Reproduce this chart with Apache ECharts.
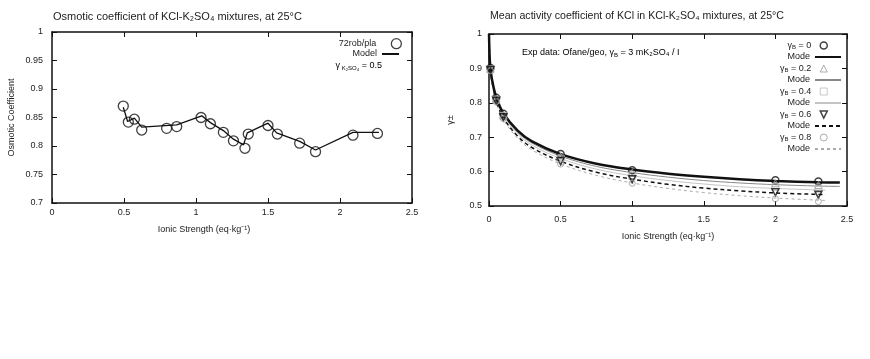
<!DOCTYPE html>
<html><head><meta charset="utf-8">
<script src="https://cdn.jsdelivr.net/npm/echarts@6/dist/echarts.min.js"></script>
<style>html,body{margin:0;padding:0;background:#fff}#c{width:870px;height:359px}</style>
</head><body><div id="c"></div>
<script>
// ---- Left chart: osmotic coefficient ----
const osmX = [0.495, 0.53, 0.572, 0.623, 0.796, 0.866, 1.035, 1.10, 1.19, 1.26, 1.34, 1.363, 1.50, 1.565, 1.72, 1.83, 2.09, 2.26];
const osmY = [0.870, 0.842, 0.847, 0.828, 0.831, 0.834, 0.850, 0.839, 0.824, 0.809, 0.796, 0.821, 0.836, 0.821, 0.805, 0.790, 0.819, 0.822];
const osmModelX = [0.495, 0.525, 0.572, 0.623, 0.866, 1.04, 1.10, 1.19, 1.26, 1.33, 1.356, 1.50, 1.56, 1.72, 1.83, 2.09, 2.27];
const osmModelY = [0.868, 0.843, 0.849, 0.833, 0.837, 0.853, 0.841, 0.827, 0.812, 0.802, 0.823, 0.840, 0.823, 0.808, 0.793, 0.824, 0.824];

// ---- Right chart: mean activity coefficient ----
const expX = [0.01, 0.05, 0.1, 0.5, 1, 2, 2.3];
const expY0 = [0.901, 0.815, 0.768, 0.651, 0.604, 0.575, 0.571];
const expY2 = [0.899, 0.812, 0.765, 0.644, 0.597, 0.566, 0.561];
const expY4 = [0.897, 0.809, 0.762, 0.638, 0.588, 0.555, 0.550];
const expY6 = [0.895, 0.806, 0.758, 0.630, 0.578, 0.540, 0.533];
const expY8 = [0.893, 0.803, 0.754, 0.622, 0.566, 0.521, 0.513];

const modelXLong = [0, 0.005, 0.01, 0.02, 0.05, 0.1, 0.2, 0.3, 0.5, 0.75, 1, 1.25, 1.5, 1.75, 2, 2.3, 2.45];
const modelXShort = [0, 0.005, 0.01, 0.02, 0.05, 0.1, 0.2, 0.3, 0.5, 0.75, 1, 1.25, 1.5, 1.75, 2, 2.35];
const modelY0 = [1.0, 0.927, 0.902, 0.870, 0.817, 0.770, 0.719, 0.688, 0.651, 0.623, 0.606, 0.594, 0.585, 0.578, 0.573, 0.569, 0.568];
const modelY2 = [1.0, 0.926, 0.900, 0.868, 0.814, 0.766, 0.714, 0.683, 0.645, 0.615, 0.597, 0.584, 0.574, 0.567, 0.562, 0.558, 0.557];
const modelY4 = [1.0, 0.925, 0.899, 0.866, 0.811, 0.762, 0.709, 0.677, 0.638, 0.607, 0.588, 0.574, 0.564, 0.556, 0.551, 0.546];
const modelY6 = [1.0, 0.924, 0.898, 0.864, 0.807, 0.757, 0.703, 0.670, 0.630, 0.598, 0.578, 0.563, 0.552, 0.544, 0.538, 0.533];
const modelY8 = [1.0, 0.923, 0.896, 0.861, 0.803, 0.752, 0.697, 0.663, 0.622, 0.589, 0.567, 0.551, 0.539, 0.530, 0.523, 0.516];

const yBLabels = ['0', '0.2', '0.4', '0.6', '0.8'];

const FONT = 'Liberation Sans, Arial, sans-serif';
const TXT = '#222';
const zip = (xs, ys) => ys.map((y, i) => [xs[i], y]);

function ax(extra) {
  return Object.assign({
    type: 'value',
    axisLine: { show: true, onZero: false, lineStyle: { color: '#111', width: 1.5 } },
    axisTick: { show: true, inside: true, length: 5, lineStyle: { color: '#111', width: 1 } },
    splitLine: { show: false },
    axisLabel: { color: TXT, fontSize: 9, fontFamily: FONT }
  }, extra);
}
const noLabel = { show: false };

const richSub = {
  g: { fontSize: 9, fontFamily: FONT, color: TXT, lineHeight: 10 },
  b: { fontSize: 6, fontFamily: FONT, color: TXT, lineHeight: 10, verticalAlign: 'bottom', padding: [3, 0, 0, 0] }
};

const markerStyles = [
  { symbol: 'circle', icon: 'circle', rotate: 0, size: 7, color: '#111', bw: 1.5 },
  { symbol: 'triangle', icon: 'triangle', rotate: 0, size: 7, color: '#999', bw: 1 },
  { symbol: 'rect', icon: 'rect', rotate: 0, size: 7, color: '#bbb', bw: 1 },
  { symbol: 'triangle', icon: 'path://M0,0L10,0L5,10Z', rotate: 180, size: 7, color: '#111', bw: 1.5 },
  { symbol: 'circle', icon: 'circle', rotate: 0, size: 6, color: '#999', bw: 1 }
];
const lineStyles = [
  { color: '#111', width: 2.5, type: 'solid' },
  { color: '#888', width: 1, type: 'solid' },
  { color: '#c4c4c4', width: 1, type: 'solid' },
  { color: '#111', width: 1.5, type: [4, 3] },
  { color: '#aaa', width: 1, type: [3, 3] }
];
const expYs = [expY0, expY2, expY4, expY6, expY8];
const modelData = [
  zip(modelXLong, modelY0), zip(modelXLong, modelY2), zip(modelXShort, modelY4),
  zip(modelXShort, modelY6), zip(modelXShort, modelY8)
];
const hiddenSym = { color: 'rgba(0,0,0,0)', borderColor: 'rgba(0,0,0,0)', borderWidth: 0 };

const series = [
  {
    name: 'Model', type: 'line', xAxisIndex: 0, yAxisIndex: 0,
    data: zip(osmModelX, osmModelY), symbol: 'none',
    itemStyle: { color: '#111' },
    lineStyle: { color: '#111', width: 1.3 }, z: 2
  },
  {
    name: '72rob/pla', type: 'scatter', xAxisIndex: 0, yAxisIndex: 0,
    data: zip(osmX, osmY), symbol: 'circle', symbolSize: 10,
    itemStyle: { color: 'rgba(0,0,0,0)', borderColor: '#111', borderWidth: 1.3 }, z: 3
  }
];
for (let i = 0; i < 5; i++) {
  series.push({
    name: 'M' + i, type: 'line', xAxisIndex: 2, yAxisIndex: 2,
    data: modelData[i], symbol: 'none', smooth: 0.35,
    itemStyle: { color: lineStyles[i].color },
    lineStyle: lineStyles[i], z: 2 + (4 - i) * 0.1
  });
}
for (let i = 0; i < 5; i++) {
  const m = markerStyles[i];
  series.push({
    name: 'E' + i, type: 'scatter', xAxisIndex: 2, yAxisIndex: 2,
    data: zip(expX, expYs[i]), symbol: m.symbol, symbolRotate: m.rotate, symbolSize: m.size,
    itemStyle: { color: 'rgba(0,0,0,0)', borderColor: m.color, borderWidth: m.bw }, z: 4
  });
}

const option = {
  backgroundColor: '#fff',
  animation: false,
  title: [
    { text: 'Osmotic coefficient of KCl-K₂SO₄ mixtures, at 25°C', left: 53, top: 11, padding: 0,
      textStyle: { fontSize: 11, fontWeight: 'normal', color: TXT, fontFamily: FONT } },
    { text: 'Mean activity coefficient of KCl in KCl-K₂SO₄ mixtures, at 25°C', left: 490, top: 11, padding: 0,
      textStyle: { fontSize: 10.6, fontWeight: 'normal', color: TXT, fontFamily: FONT } }
  ],
  grid: [
    { left: 52, right: 458, top: 32, bottom: 156 },
    { left: 489, right: 23, top: 34, bottom: 153 }
  ],
  xAxis: [
    ax({ gridIndex: 0, min: 0, max: 2.5, interval: 0.5, position: 'bottom',
      name: 'Ionic Strength (eq·kg⁻¹)', nameLocation: 'middle', nameGap: 22,
      nameTextStyle: { color: TXT, fontSize: 9, fontFamily: FONT, padding: [0, 56, 0, 0] },
      axisLabel: { color: TXT, fontSize: 9, fontFamily: FONT, margin: 5 } }),
    ax({ gridIndex: 0, min: 0, max: 2.5, interval: 0.5, position: 'top', axisLabel: noLabel }),
    ax({ gridIndex: 1, min: 0, max: 2.5, interval: 0.5, position: 'bottom',
      name: 'Ionic Strength (eq·kg⁻¹)', nameLocation: 'middle', nameGap: 26,
      nameTextStyle: { color: TXT, fontSize: 9, fontFamily: FONT },
      axisLabel: { color: TXT, fontSize: 9, fontFamily: FONT, margin: 9 } }),
    ax({ gridIndex: 1, min: 0, max: 2.5, interval: 0.5, position: 'top', axisLabel: noLabel })
  ],
  yAxis: [
    ax({ gridIndex: 0, min: 0.7, max: 1, interval: 0.05, position: 'left',
      name: 'Osmotic Coefficient', nameLocation: 'middle', nameGap: 36,
      nameTextStyle: { color: TXT, fontSize: 9, fontFamily: FONT },
      axisLabel: { color: TXT, fontSize: 9, fontFamily: FONT, margin: 9 } }),
    ax({ gridIndex: 0, min: 0.7, max: 1, interval: 0.05, position: 'right', axisLabel: noLabel }),
    ax({ gridIndex: 1, min: 0.5, max: 1, interval: 0.1, position: 'left',
      name: 'γ±', nameLocation: 'middle', nameGap: 34,
      nameTextStyle: { color: TXT, fontSize: 9, fontFamily: FONT },
      axisLabel: { color: TXT, fontSize: 9, fontFamily: FONT, margin: 7 } }),
    ax({ gridIndex: 1, min: 0.5, max: 1, interval: 0.1, position: 'right', axisLabel: noLabel })
  ],
  legend: [
    { data: [{ name: '72rob/pla', icon: 'circle', itemStyle: { color: '#fff', borderColor: '#111', borderWidth: 1.3 } }],
      orient: 'vertical', align: 'right', right: 468, top: 38, padding: 0,
      itemWidth: 10, itemHeight: 10, selectedMode: false,
      textStyle: { fontSize: 9, color: TXT, fontFamily: FONT, lineHeight: 10, padding: [0, 10, 0, 0] } },
    { data: [{ name: 'Model', itemStyle: hiddenSym }], orient: 'vertical', align: 'right', right: 470, top: 49, padding: 0,
      itemWidth: 17, itemHeight: 8, selectedMode: false,
      textStyle: { fontSize: 9, color: TXT, fontFamily: FONT, lineHeight: 10 } },
    { data: markerStyles.map((m, i) => ({ name: 'E' + i, icon: m.icon,
        itemStyle: { color: '#fff', borderColor: m.color, borderWidth: m.bw } })),
      orient: 'vertical', align: 'right', right: 42, top: 40.5, padding: 0,
      itemWidth: 7, itemHeight: 7, itemGap: 13, selectedMode: false,
      formatter: name => '{g|γ}{b|B}{g| = ' + yBLabels[+name.slice(1)] + '}',
      textStyle: { fontSize: 9, color: TXT, fontFamily: FONT, lineHeight: 10, rich: richSub, padding: [0, 4, 0, 0] } },
    { data: ['M0', 'M1', 'M2', 'M3', 'M4'].map(n => ({ name: n, itemStyle: hiddenSym })),
      orient: 'vertical', align: 'right', right: 28, top: 52, padding: 0,
      itemWidth: 26, itemHeight: 8, itemGap: 13, selectedMode: false,
      formatter: () => 'Mode',
      textStyle: { fontSize: 9, color: TXT, fontFamily: FONT, lineHeight: 10 } }
  ],
  graphic: [
    { type: 'text', x: 382, y: 66,
      style: { text: '{g|γ}{b| K₂SO₄}{g| = 0.5}', align: 'right', verticalAlign: 'middle', rich: richSub } },
    { type: 'text', x: 522, y: 53,
      style: { text: '{g|Exp data: Ofane/geo, γ}{b|B}{g| = 3 mK₂SO₄ / I}', align: 'left', verticalAlign: 'middle', rich: richSub } }
  ],
  series: series
};

const chart = echarts.init(document.getElementById('c'), null, { renderer: 'canvas' });
chart.setOption(option);
</script>
</body></html>
